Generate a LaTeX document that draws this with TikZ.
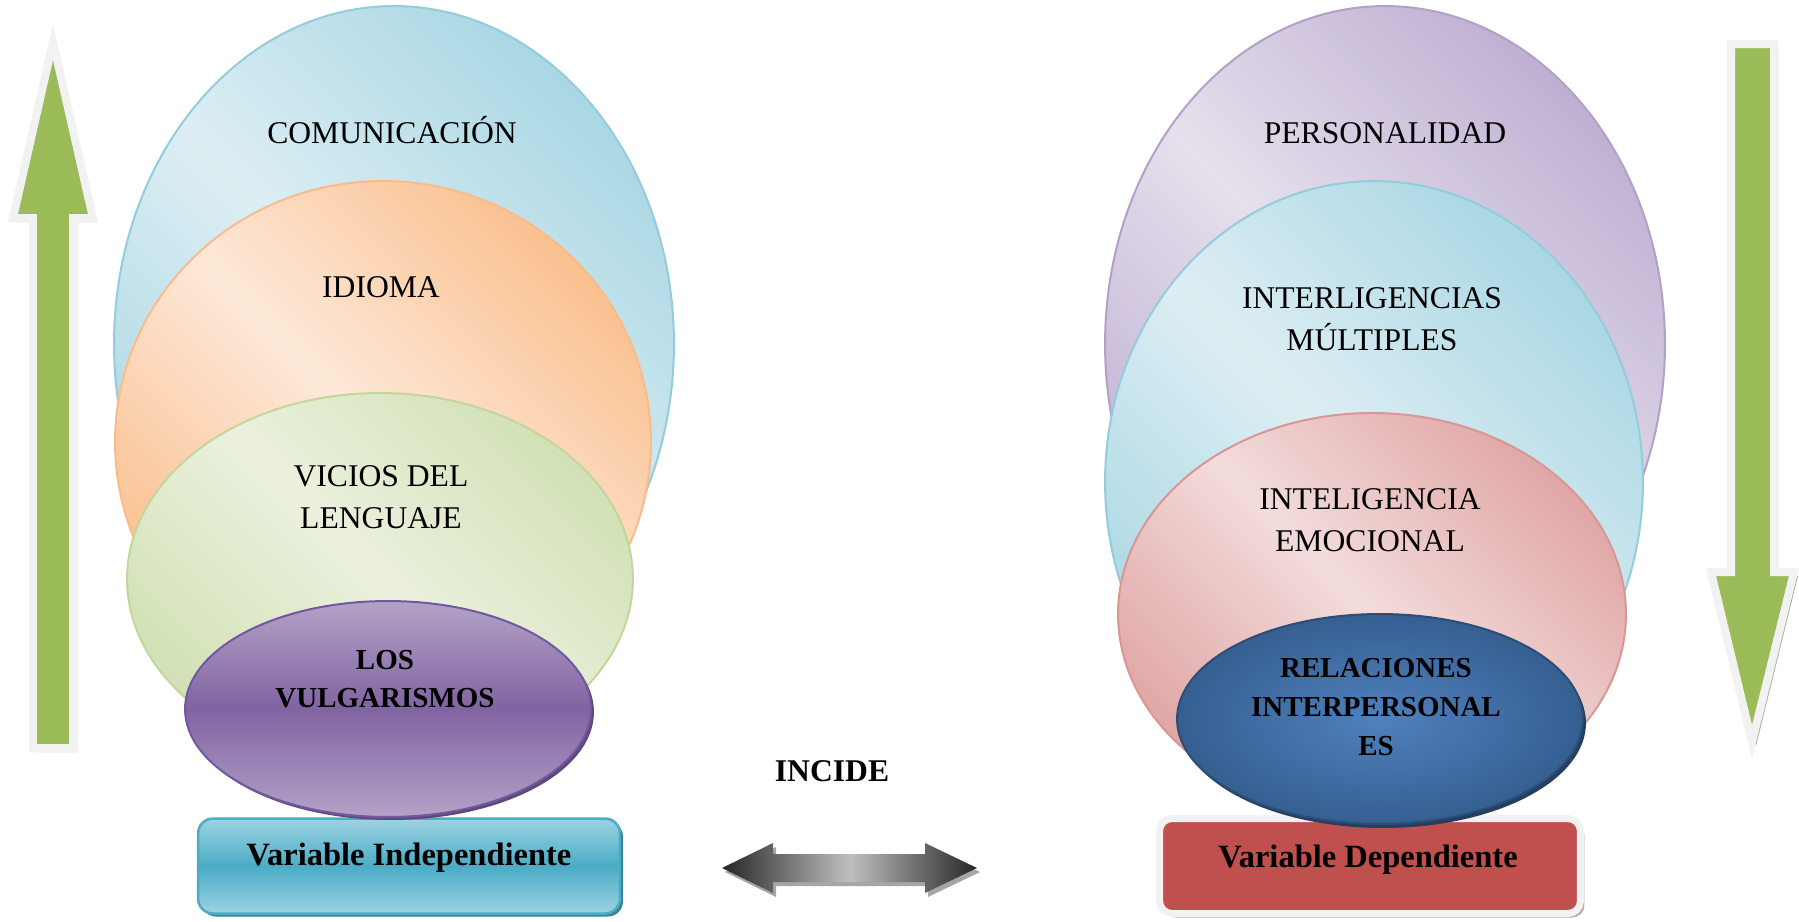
\documentclass[tikz,border=0pt]{standalone}
\usepackage{fontspec}
\setmainfont{Liberation Serif}
\usetikzlibrary{shapes.geometric}
\definecolor{comdark}{HTML}{A9D7E4}
\definecolor{comlight}{HTML}{DDEEF3}
\definecolor{comline}{HTML}{93CDDD}
\definecolor{idiodark}{HTML}{FAC08F}
\definecolor{idiolight}{HTML}{FDE9D9}
\definecolor{idioline}{HTML}{F9BB8A}
\definecolor{vicdark}{HTML}{D2E1B6}
\definecolor{viclight}{HTML}{EBF1DE}
\definecolor{vicline}{HTML}{C3D69B}
\definecolor{vulgdark}{HTML}{8064A2}
\definecolor{vulglight}{HTML}{B3A2C7}
\definecolor{vulgline}{HTML}{7357A0}
\definecolor{vulgshade}{HTML}{5F497A}
\definecolor{vinddark}{HTML}{4BACC6}
\definecolor{vindlight}{HTML}{9DD3E1}
\definecolor{vindline}{HTML}{4BACC6}
\definecolor{vindshade}{HTML}{31859C}
\definecolor{persdark}{HTML}{BFB0D3}
\definecolor{perslight}{HTML}{E6E0EC}
\definecolor{persline}{HTML}{B2A1C7}
\definecolor{iedark}{HTML}{E0A7A6}
\definecolor{ielight}{HTML}{F2DCDB}
\definecolor{ieline}{HTML}{D99694}
\definecolor{ridark}{HTML}{365F91}
\definecolor{rilight}{HTML}{4F81BD}
\definecolor{riline}{HTML}{2C4D75}
\definecolor{rishade}{HTML}{243F60}
\definecolor{vdepfill}{HTML}{C0504D}
\definecolor{vdepshade}{HTML}{BFA3A3}
\definecolor{offwhite}{HTML}{F2F2F2}
\definecolor{arrowgreen}{HTML}{9BBB59}
\definecolor{greenshade}{HTML}{A6AE8C}
\tikzset{
  elli/.style={ellipse, inner sep=0pt, line width=0.04cm},
  txt/.style={font=\fontsize{18}{24}\selectfont, align=center, inner sep=0pt},
  btxt/.style={font=\fontsize{16.5}{22}\selectfont\bfseries, align=center, inner sep=0pt},
  greenarrow/.style={fill=arrowgreen, draw=offwhite, line width=0.16cm, line join=miter},
}
\begin{document}
\begin{tikzpicture}[x=0.02cm, y=-0.02cm]
\useasboundingbox (0,0) rectangle (1799,921);

% green arrows
\fill[greenshade] (37,752) -- (37,222) -- (17,222) -- (57,46) -- (97,222) -- (77,222) -- (77,752) -- cycle;
\draw[greenarrow] (33,748) -- (33,218) -- (13,218) -- (53,42) -- (93,218) -- (73,218) -- (73,748) -- cycle;
\fill[greenshade] (1735,48) -- (1778,48) -- (1778,576) -- (1798,576) -- (1756,746) -- (1715,576) -- (1735,576) -- cycle;
\draw[greenarrow] (1731,44) -- (1774,44) -- (1774,572) -- (1794,572) -- (1752,742) -- (1711,572) -- (1731,572) -- cycle;

% left stack
\node[elli, draw=comline, left color=comdark, right color=comdark, middle color=comlight, shading angle=135,
  minimum width=11.2cm, minimum height=13.52cm] (comunicacion) at (394,344) {};
\node[elli, draw=idioline, left color=idiodark, right color=idiodark, middle color=idiolight, shading angle=135,
  minimum width=10.72cm, minimum height=10.44cm] (idioma) at (383,442) {};
\node[elli, draw=vicline, left color=vicdark, right color=vicdark, middle color=viclight, shading angle=135,
  minimum width=10.12cm, minimum height=7.44cm] (vicios) at (380,579) {};
\node[rectangle, rounded corners=0.3cm, fill=vindshade, minimum width=8.44cm, minimum height=1.9cm] (vindshadow) at (412,869) {};
\node[rectangle, rounded corners=0.3cm, draw=vindline, line width=0.05cm, top color=vindlight, bottom color=vindlight,
  middle color=vinddark, minimum width=8.44cm, minimum height=1.9cm] (vind) at (409,866) {};
\node[elli, fill=vulgshade, minimum width=8.12cm, minimum height=4.32cm] (vulgshadow) at (391,712) {};
\node[elli, draw=vulgline, top color=vulglight, bottom color=vulglight, middle color=vulgdark,
  minimum width=8.12cm, minimum height=4.32cm] (vulgarismos) at (388,709) {};

\node[txt, anchor=base] (comtxt) at (392,143) {COMUNICACIÓN};
\node[txt, anchor=base] (idiotxt) at (381,297) {IDIOMA};
\node[txt] (victxt) at (381,497) {VICIOS DEL\\LENGUAJE};
\node[btxt] (vulgtxt) at (385,679) {LOS\\VULGARISMOS};
\node[btxt, font=\fontsize{18.5}{22}\selectfont\bfseries, anchor=base] (vindtxt) at (409,865) {Variable Independiente};

% right stack
\node[elli, draw=persline, left color=persdark, right color=persdark, middle color=perslight, shading angle=135,
  minimum width=11.2cm, minimum height=13.52cm] (personalidad) at (1385,344) {};
\node[elli, draw=comline, left color=comdark, right color=comdark, middle color=comlight, shading angle=135,
  minimum width=10.76cm, minimum height=12.04cm] (multiples) at (1374,482) {};
\node[elli, draw=ieline, left color=iedark, right color=iedark, middle color=ielight, shading angle=135,
  minimum width=10.16cm, minimum height=8.04cm] (emocional) at (1372,614) {};
\node[rectangle, rounded corners=0.25cm, fill=vdepshade, minimum width=8.42cm, minimum height=1.9cm] (vdepshadow) at (1374,870) {};
\node[rectangle, rounded corners=0.25cm, draw=offwhite, line width=0.14cm, fill=vdepfill,
  minimum width=8.42cm, minimum height=1.9cm] (vdep) at (1370,866) {};
\node[elli, fill=rishade, minimum width=8.12cm, minimum height=4.2cm] (relshadow) at (1383,723) {};
\node[elli, draw=riline, inner color=rilight, outer color=ridark,
  minimum width=8.12cm, minimum height=4.2cm] (relaciones) at (1380,719) {};

\node[txt, anchor=base] (perstxt) at (1385,143) {PERSONALIDAD};
\node[txt] (multxt) at (1372,319) {INTERLIGENCIAS\\MÚLTIPLES};
\node[txt] (emotxt) at (1370,520) {INTELIGENCIA\\EMOCIONAL};
\node[btxt] (reltxt) at (1376,707) {RELACIONES\\INTERPERSONAL\\ES};
\node[btxt, font=\fontsize{18.5}{22}\selectfont\bfseries, anchor=base] (vdeptxt) at (1368,867) {Variable Dependiente};

% incide
\node[btxt, font=\fontsize{18}{22}\selectfont\bfseries, anchor=base] (incide) at (832,781) {INCIDE};
\coordinate (incl) at (722,868);
\coordinate (incr) at (977,868);
\fill[gray!70] ([shift={(3,4)}]incl) -- ++(51,-25) -- ++(0,11) -- ++(152,0) -- ++(0,-11) -- ([shift={(3,4)}]incr)
  -- ++(-52,25) -- ++(0,-11) -- ++(-152,0) -- ++(0,11) -- cycle;
\shade[left color=black!85, right color=black!85, middle color=black!25] (incl) -- ++(51,-25) -- ++(0,11) -- ++(152,0)
  -- ++(0,-11) -- (incr) -- ++(-52,25) -- ++(0,-11) -- ++(-152,0) -- ++(0,11) -- cycle;
\end{tikzpicture}
\end{document}
